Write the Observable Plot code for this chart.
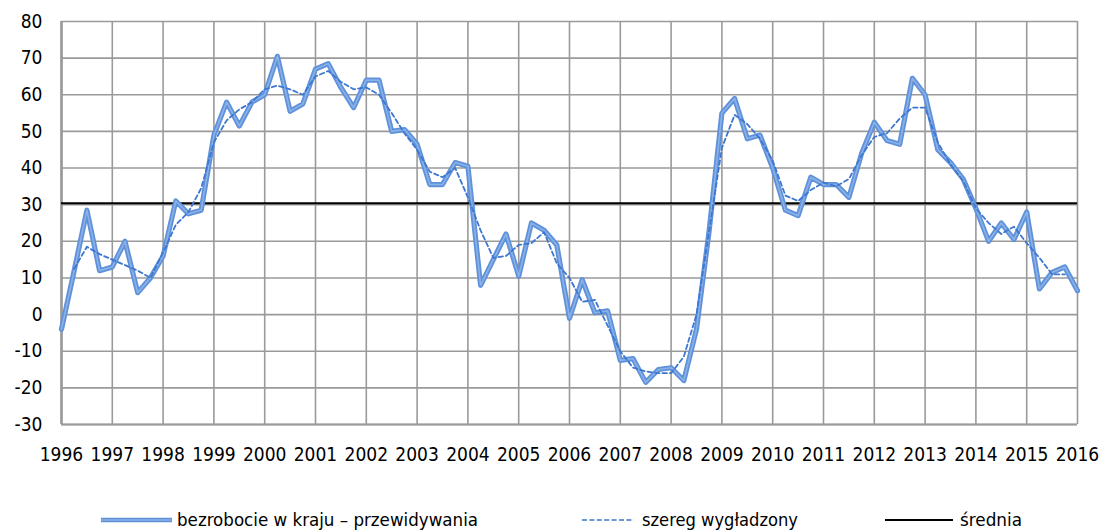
<!DOCTYPE html>
<html>
<head>
<meta charset="utf-8">
<script src="https://cdn.jsdelivr.net/npm/d3@7"></script>
<script src="https://cdn.jsdelivr.net/npm/@observablehq/plot@0.6"></script>
<style>
  html, body { margin: 0; padding: 0; background: #fff; }
  #wrap { position: relative; width: 1104px; height: 532px; overflow: hidden; }
  #legend { position: absolute; left: 0; top: 480px; }
</style>
</head>
<body>
<div id="wrap">
  <div id="chart"></div>
  <svg id="legend" width="1104" height="52"></svg>
</div>
<script>
// ---- data (quarterly, 1996 Q1 .. 2016 Q1) ----
const startYear = 1996;
const forecast = [
  -4, 12, 28.5, 12, 13, 20, 6, 10,
  16, 31, 27.5, 28.5, 49, 58, 51.5, 58,
  60, 70.5, 55.5, 57.5, 67, 68.5, 62, 56.5,
  64, 64, 50, 50.5, 46.5, 35.5, 35.5, 41.5,
  40.5, 8, 15, 22, 10.5, 25, 23, 19,
  -1, 9.5, 0.5, 1, -12.5, -12, -18.5, -15,
  -14.5, -18, -4, 23, 55, 59, 48, 49,
  40, 28.5, 27, 37.5, 35.5, 35.5, 32, 44,
  52.5, 47.5, 46.5, 64.5, 60, 45, 41.5, 37,
  29, 20, 25, 20.5, 28, 7, 11.5, 13,
  6.5
];
const smoothed = [
  null, 12.5, 18.5, 16.5, 15, 13.5, 12, 10,
  17, 24.5, 28, 34.5, 47, 53, 56, 58,
  61.5, 62.5, 61.5, 60, 65, 66.5, 63.5, 61.5,
  62, 60, 55, 49.5, 45, 39, 37.5, 40,
  32, 23, 15.5, 16, 19, 19.5, 22.5, 14,
  10, 3.5, 4, -3, -10, -14.5, -15.5, -16,
  -16, -11.5, 0, 23, 45.5, 54.5, 52, 48,
  42, 32.5, 31, 34, 36, 35, 37, 43.5,
  48.5, 49.5, 53.5, 56.5, 56.5, 47, 41, 36.5,
  29, 25, 22, 24, 19.5, 15.5, 11, 11,
  null
];
const mean = 30.4;
const years = d3.range(1996, 2017);
const yTicks = d3.range(-30, 81, 10);
const seriesNames = ["bezrobocie w kraju – przewidywania", "szereg wygładzony", "średnia"];

const rows = forecast.map((v, i) => ({ t: startYear + i / 4, f: v, s: smoothed[i] }));

const gridColor = "#9a9a9a";
const font = "'DejaVu Sans Condensed', 'DejaVu Sans', sans-serif";

const chart = Plot.plot({
  width: 1104,
  height: 480,
  marginTop: 21,
  marginBottom: 56,
  marginLeft: 61,
  marginRight: 27,
  style: { fontFamily: font, fontSize: "19px", color: "#000", background: "#fff", overflow: "visible" },
  x: { type: "linear", domain: [1996, 2016], label: null },
  y: { domain: [-30, 80], label: null },
  marks: [
    Plot.gridX(years, { stroke: gridColor, strokeOpacity: 1, strokeWidth: 1.6 }),
    Plot.gridY(yTicks, { stroke: gridColor, strokeOpacity: 1, strokeWidth: 1.6 }),
    Plot.ruleX([1996], { stroke: gridColor, strokeWidth: 2.6 }),
    Plot.ruleY([-30], { stroke: gridColor, strokeWidth: 2.2 }),
    Plot.axisX(years, { tickSize: 0, tickPadding: 23, tickFormat: d => String(d), fontSize: 19 }),
    Plot.axisY(yTicks, { tickSize: 0, tickPadding: 19, tickFormat: d => String(d), fontSize: 19 }),
    Plot.ruleY([mean], { stroke: "#000", strokeWidth: 2 }),
    Plot.line(rows, { x: "t", y: "f", stroke: "#5f92da", strokeWidth: 5.2 }),
    Plot.line(rows, { x: "t", y: "f", stroke: "#a9c7f0", strokeWidth: 1.6, strokeOpacity: 0.6 }),
    Plot.line(rows.filter(d => d.s != null), { x: "t", y: "s", stroke: "#3d77cf", strokeWidth: 1.8, strokeDasharray: "4.5,3" })
  ]
});
document.getElementById("chart").appendChild(chart);

// ---- legend ----
const legendItems = [
  { x1: 101, x2: 172, tx: 177, tl: 301, kind: "thick" },
  { x1: 582, x2: 634, tx: 642, tl: 156, kind: "dash" },
  { x1: 885, x2: 953, tx: 960, tl: 62, kind: "mean" }
];
const ns = "http://www.w3.org/2000/svg";
const lg = document.getElementById("legend");
legendItems.forEach((it, k) => {
  const mk = (attrs) => {
    const l = document.createElementNS(ns, "line");
    for (const [a, v] of Object.entries({ x1: it.x1, x2: it.x2, y1: 40, y2: 40, ...attrs })) l.setAttribute(a, v);
    lg.appendChild(l);
  };
  if (it.kind === "thick") { mk({ stroke: "#5f92da", "stroke-width": 4.5 }); mk({ stroke: "#a9c7f0", "stroke-width": 1.5, "stroke-opacity": 0.6 }); }
  else if (it.kind === "dash") mk({ stroke: "#3d77cf", "stroke-width": 1.6, "stroke-dasharray": "5,2.4" });
  else mk({ stroke: "#000", "stroke-width": 2 });
  const t = document.createElementNS(ns, "text");
  t.setAttribute("x", it.tx);
  t.setAttribute("y", 46);
  t.setAttribute("textLength", it.tl);
  t.setAttribute("lengthAdjust", "spacingAndGlyphs");
  t.setAttribute("font-family", font);
  t.setAttribute("font-size", 18);
  t.setAttribute("fill", "#000");
  t.textContent = seriesNames[k];
  lg.appendChild(t);
});
</script>
</body>
</html>
